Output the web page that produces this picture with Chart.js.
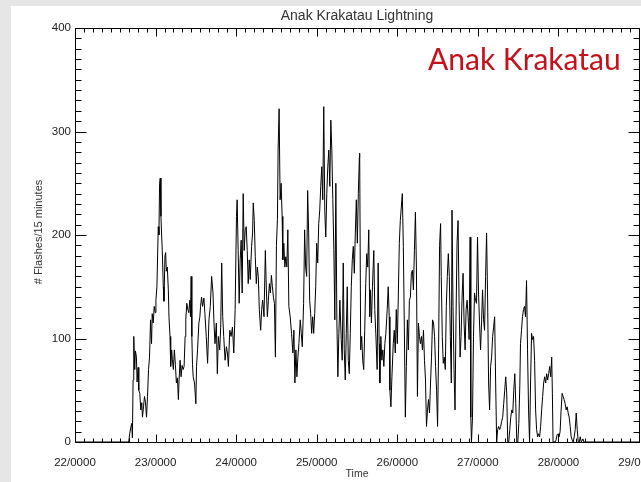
<!DOCTYPE html>
<html>
<head>
<meta charset="utf-8">
<script src="https://cdn.jsdelivr.net/npm/chart.js@4.4.1/dist/chart.umd.min.js"></script>
<style>
  html, body { margin: 0; padding: 0; background: #e6e6e6; }
  #wrap { position: absolute; left: 11px; top: 6px; width: 630px; height: 476px; background: #fff; overflow: hidden; }
</style>
</head>
<body>
<div id="wrap"><canvas id="chart" width="630" height="476"></canvas></div>
<script>
// hours since 22/0000 and flashes per 15 minutes
const hours = [
  0, 16.0, 16.3, 16.6, 16.9, 17.1, 17.3, 17.5, 17.8, 18.0, 18.3, 18.5, 18.8, 19.0, 19.3, 19.6, 19.9,
  20.1, 20.4, 20.7, 21.0, 21.3, 21.6, 21.9, 22.2, 22.5, 22.8, 23.0, 23.3, 23.6, 23.9, 24.1, 24.4,
  24.8, 25.0, 25.2, 25.4, 25.6, 25.8, 26.0, 26.3, 26.5, 26.8, 27.0, 27.2, 27.5, 27.8, 28.0, 28.3,
  28.5, 28.8, 29.0, 29.3, 29.6, 29.9, 30.2, 30.5, 30.8, 31.0, 31.3, 31.6, 31.9, 32.2, 32.5, 32.8,
  33.0, 33.3, 33.6, 33.9, 34.2, 34.4, 34.6, 34.8, 35.0, 35.2, 35.6, 36.0, 36.2, 36.5, 36.9, 37.2,
  37.4, 37.7, 38.0, 38.4, 38.7, 39.1, 39.5, 39.9, 40.3, 40.7, 41.1, 41.4, 41.7, 42.1, 42.4, 42.7,
  43.1, 43.4, 43.7, 44.0, 44.3, 44.7, 45.1, 45.4, 45.7, 46.1, 46.5, 46.9, 47.3, 47.7, 48.1, 48.3,
  48.6, 48.9, 49.2, 49.5, 49.8, 50.1, 50.4, 50.7, 51.0, 51.3, 51.6, 51.9, 52.2, 52.6, 52.9, 53.1,
  53.4, 53.7, 54.0, 54.3, 54.6, 54.9, 55.3, 55.6, 55.9, 56.3, 56.7, 57.0, 57.3, 57.6, 57.9, 58.2,
  58.5, 58.8, 59.1, 59.4, 59.7, 60.0, 60.3, 60.5, 60.8, 61.1, 61.4, 61.7, 61.9, 62.2, 62.5, 62.8,
  63.1, 63.4, 63.7, 64.1, 64.5, 64.9, 65.2, 65.5, 65.8, 66.1, 66.4, 66.7, 67.1, 67.4, 67.7, 68.1,
  68.4, 68.7, 69.0, 69.3, 69.6, 69.9, 70.2, 70.5, 70.8, 71.1, 71.4, 71.7, 72.0, 72.3, 72.6, 72.9,
  73.2, 73.5, 73.8, 74.1, 74.4, 74.7, 75.0, 75.3, 75.6, 75.9, 76.2, 76.5, 76.8, 77.1, 77.4, 77.7,
  78.0, 78.3, 78.6, 78.9, 79.3, 79.6, 79.9, 80.2, 80.5, 80.8, 81.1, 81.4, 81.7, 82.0, 82.3, 82.6,
  82.9, 83.2, 83.5, 83.8, 84.1, 84.4, 84.7, 84.8, 85.1, 85.4, 85.7, 86.0, 86.3, 86.6, 86.9, 87.2,
  87.5, 87.8, 88.0, 88.3, 88.6, 89.0, 89.3, 89.6, 90.0, 90.3, 90.6, 90.8, 91.1, 91.4, 91.7, 92.0,
  92.3, 92.6, 93.0, 93.3, 93.6, 93.8, 94.1, 94.4, 94.8, 95.1, 95.4, 95.7, 96.0, 96.3, 96.6, 96.9,
  97.2, 97.5, 97.8, 98.1, 98.4, 98.7, 99.0, 99.3, 99.6, 99.9, 100.2, 100.5, 100.8, 101.1, 101.4, 101.7,
  102.0, 102.3, 102.6, 102.9, 103.2, 103.5, 103.8, 104.1, 104.4, 104.7, 105.0, 105.3, 105.6, 105.9, 106.2, 106.5,
  106.8, 107.1, 107.4, 107.7, 108.0, 108.3, 108.6, 108.9, 109.1, 109.4, 109.7, 110.0, 110.3, 110.6, 110.9, 111.2,
  111.5, 111.8, 112.1, 112.3, 112.6, 112.9, 113.2, 113.5, 113.8, 114.1, 114.4, 114.7, 115.0, 115.3, 115.6, 115.9,
  116.2, 116.5, 116.8, 117.1, 117.4, 117.7, 117.9, 118.1, 118.4, 118.7, 119.0, 119.3, 119.6, 119.9, 120.2, 120.5,
  120.8, 121.1, 121.4, 121.7, 122.0, 122.3, 122.6, 122.9, 123.2, 123.5, 123.8, 124.1, 124.4, 124.7, 125.0, 125.3,
  125.6, 125.9, 126.2, 126.5, 126.8, 127.1, 127.4, 127.7, 128.0, 128.3, 128.6, 128.9, 129.2, 129.5, 129.8, 130.1,
  130.4, 130.7, 131.0, 131.3, 131.6, 131.9, 132.2, 132.5, 132.7, 133.0, 133.3, 133.6, 133.9, 134.2, 134.5, 134.8,
  135.1, 135.4, 135.7, 136.0, 136.3, 136.6, 136.9, 137.2, 137.5, 137.8, 138.1, 138.4, 138.7, 139.0, 139.3, 139.6,
  139.9, 140.2, 140.5, 140.8, 141.1, 141.4, 141.7, 142.0, 142.2, 142.4, 142.7, 143.0, 143.3, 143.6, 143.9, 144.2,
  144.5, 144.8, 145.1, 145.4, 145.7, 146.0, 146.3, 146.6, 146.9, 147.2, 147.5, 147.8, 148.1, 148.4, 148.7, 149.0,
  149.3, 149.6, 149.9, 150.2, 150.5, 150.8, 151.3, 151.6, 168
];
const flashes = [
  0, 0, 8, 14, 18, 4, 60, 102, 70, 88, 82, 58, 72, 50, 47, 31, 38,
  24, 34, 44, 38, 24, 44, 70, 82, 118, 95, 124, 115, 131, 125, 137, 150,
  208, 200, 250, 255, 218, 200, 185, 150, 136, 180, 183, 165, 169, 147, 120, 102,
  73, 89, 80, 70, 89, 75, 57, 62, 41, 60, 79, 63, 74, 70, 73, 102,
  118, 134, 128, 125, 137, 121, 160, 102, 75, 63, 57, 37, 73, 89, 115, 121,
  131, 140, 131, 139, 124, 102, 76, 118, 131, 160, 144, 115, 95, 115, 66, 102,
  89, 111, 173, 121, 102, 79, 92, 86, 73, 108, 102, 111, 86, 128, 218, 234,
  185, 134, 176, 195, 144, 240, 185, 205, 208, 185, 153, 176, 157, 189, 202, 231,
  214, 179, 153, 169, 160, 128, 108, 128, 137, 121, 185, 147, 121, 137, 153, 144,
  161, 150, 140, 134, 82, 190, 215, 282, 322, 234, 250, 218, 176, 192, 169, 179,
  169, 205, 131, 121, 105, 86, 108, 57, 89, 63, 82, 95, 118, 105, 92, 134,
  205, 169, 160, 243, 202, 137, 124, 105, 121, 105, 124, 150, 192, 173, 211, 224,
  247, 266, 234, 324, 224, 198, 240, 266, 282, 247, 311, 282, 234, 186, 118, 250,
  118, 63, 105, 137, 99, 79, 173, 89, 60, 105, 150, 79, 66, 105, 150, 176,
  189, 163, 202, 234, 192, 240, 275, 279, 89, 102, 79, 70, 108, 153, 182, 169,
  205, 121, 147, 115, 150, 185, 128, 105, 70, 173, 95, 57, 102, 79, 89, 73,
  95, 105, 128, 150, 121, 50, 34, 63, 95, 108, 86, 128, 95, 140, 192, 214,
  227, 240, 189, 111, 24, 73, 118, 89, 137, 140, 163, 166, 147, 185, 222, 169,
  44, 115, 102, 95, 102, 89, 108, 79, 60, 15, 31, 41, 28, 57, 82, 118,
  115, 102, 73, 50, 15, 89, 190, 211, 160, 102, 76, 82, 70, 131, 160, 182,
  160, 102, 57, 224, 131, 70, 31, 121, 192, 214, 137, 82, 102, 140, 163, 115,
  89, 128, 137, 121, 99, 198, 24, 0, 24, 102, 144, 137, 134, 198, 144, 115,
  89, 115, 147, 118, 108, 160, 202, 140, 57, 31, 73, 82, 102, 111, 121, 57,
  0, 12, 15, 12, 15, 20, 24, 37, 50, 63, 47, 0, 0, 12, 24, 31,
  28, 50, 66, 37, 0, 0, 18, 55, 95, 108, 121, 128, 131, 121, 156, 89,
  31, 0, 57, 105, 99, 102, 79, 31, 12, 5, 8, 5, 15, 31, 44, 57,
  63, 57, 66, 60, 66, 73, 63, 82, 47, 0, 0, 0, 2, 7, 8, 5,
  10, 31, 47, 44, 41, 37, 31, 34, 28, 24, 15, 5, 2, 0, 5, 12,
  28, 12, 0, 0, 5, 0, 3, 0, 0
];
const dayLabels = ['22/0000', '23/0000', '24/0000', '25/0000', '26/0000', '27/0000', '28/0000', '29/0000'];
const yTickValues = [0, 100, 200, 300, 400];

const points = hours.map((h, i) => ({ x: h, y: flashes[i] }));

const axisFont = { family: 'Liberation Sans', size: 11.5 };

// box with inward major/minor ticks on all four sides, plus the texts
const frame = {
  id: 'frame',
  afterDatasetsDraw(chart) {
    const { ctx, chartArea: a, scales: { x, y } } = chart;
    const L = Math.round(a.left) + 0.5, R = Math.round(a.right) + 0.5;
    const T = Math.round(a.top) + 0.5, B = Math.round(a.bottom) + 0.5;
    ctx.save();
    ctx.strokeStyle = '#000';
    ctx.lineWidth = 1;
    ctx.beginPath();
    ctx.rect(L, T, R - L, B - T);
    // x ticks: major every day, 9 minor divisions
    for (let k = 0; k <= 7 * 9; k++) {
      const px = Math.round(x.getPixelForValue(k * 24 / 9)) + 0.5;
      const len = k % 9 === 0 ? 8 : 4;
      ctx.moveTo(px, B); ctx.lineTo(px, B - len);
      ctx.moveTo(px, T); ctx.lineTo(px, T + len);
    }
    // y ticks: major every 100, minor every 10
    for (let v = 0; v <= 400; v += 10) {
      const py = Math.round(y.getPixelForValue(v)) + 0.5;
      const len = v % 100 === 0 ? 11 : 6;
      ctx.moveTo(L, py); ctx.lineTo(L + len, py);
      ctx.moveTo(R, py); ctx.lineTo(R - len, py);
    }
    ctx.stroke();

    ctx.fillStyle = '#333';
    ctx.textAlign = 'center';
    ctx.textBaseline = 'middle';
    ctx.font = '14px "Liberation Sans"';
    ctx.fillText('Anak Krakatau Lightning', (a.left + a.right) / 2, 10);
    ctx.font = '10.5px "Liberation Sans"';
    ctx.fillText('Time', (a.left + a.right) / 2, 468);
    ctx.save();
    ctx.translate(28, 226);
    ctx.rotate(-Math.PI / 2);
    ctx.font = '11px "Liberation Sans"';
    ctx.fillText('# Flashes/15 minutes', 0, 0);
    ctx.restore();

    ctx.fillStyle = '#c4121c';
    ctx.textAlign = 'left';
    ctx.textBaseline = 'alphabetic';
    ctx.font = '30px Lato';
    ctx.fillText('Anak Krakatau', 417, 64);
    ctx.restore();
  }
};

const ctx = document.getElementById('chart').getContext('2d');
const myChart = new Chart(ctx, {
  type: 'line',
  data: {
    datasets: [{
      data: points,
      borderColor: '#000',
      borderWidth: 1,
      pointRadius: 0,
      tension: 0,
      fill: false
    }]
  },
  options: {
    responsive: false,
    animation: false,
    devicePixelRatio: 1,
    layout: { padding: { top: 22, right: 2, left: 0, bottom: 0 } },
    plugins: { legend: { display: false }, tooltip: { enabled: false }, title: { display: false } },
    scales: {
      x: {
        type: 'linear',
        min: 0,
        max: 168,
        grid: { display: false, drawTicks: false },
        border: { display: false },
        afterBuildTicks: (scale) => {
          scale.ticks = dayLabels.map((_, i) => ({ value: i * 24 }));
        },
        afterFit: (scale) => {
          scale.height = 40;
          scale.paddingLeft = 0;
          scale.paddingRight = 0;
        },
        ticks: {
          autoSkip: false,
          maxRotation: 0,
          padding: 14,
          color: '#222',
          font: axisFont,
          callback: (v) => dayLabels[Math.round(v / 24)]
        }
      },
      y: {
        min: 0,
        max: 400,
        grid: { display: false, drawTicks: false },
        border: { display: false },
        afterBuildTicks: (scale) => {
          scale.ticks = yTickValues.map((v) => ({ value: v }));
        },
        afterFit: (scale) => {
          scale.width = 64;
          scale.paddingTop = 0;
          scale.paddingBottom = 0;
        },
        ticks: {
          padding: 4,
          color: '#222',
          font: axisFont
        }
      }
    }
  },
  plugins: [frame]
});
</script>
</body>
</html>
